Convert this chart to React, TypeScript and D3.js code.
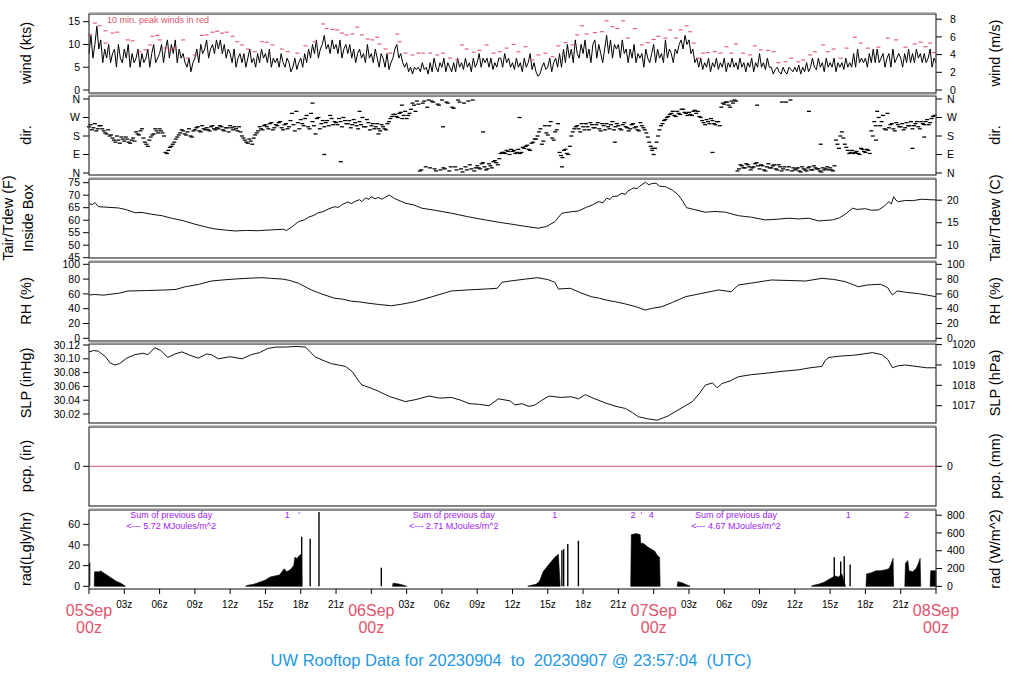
import React from 'react';
import * as d3 from 'd3';

// hours after 05Sep 00z, 72 h shown
const dayLabels = ['05Sep', '06Sep', '07Sep', '08Sep'];
const title = 'UW Rooftop Data for 20230904  to  20230907 @ 23:57:04  (UTC)';

// 1-min wind (kts), one kept sample every 10 min (one row = 2 h)
const windStep = 1 / 6;
const windKts = [
  8, 12, 7, 10, 14, 9, 11, 6, 9, 7, 10, 6,
  8, 9, 5, 10, 7, 6, 9, 7, 10, 5, 8, 6,
  7, 9, 5, 8, 6, 7, 9, 5, 8, 10, 6, 7,
  8, 10, 6, 9, 11, 7, 10, 8, 11, 6, 9, 7,
  8, 6, 5, 7, 4, 6, 7, 9, 6, 10, 8, 9,
  11, 7, 9, 10, 8, 11, 9, 11, 8, 10, 7, 9,
  8, 6, 9, 5, 7, 8, 6, 8, 5, 7, 9, 6,
  7, 5, 8, 6, 9, 7, 8, 6, 9, 5, 7, 6,
  7, 5, 8, 6, 5, 7, 6, 4, 5, 7, 4.5, 6,
  7, 5, 8, 6, 9, 7, 10, 8, 11, 7, 9, 10,
  12, 9, 10, 8, 11, 9, 10, 8, 11, 7, 9, 10,
  8, 10, 7, 9, 6, 8, 9, 7, 8, 6, 10, 7,
  8, 6, 9, 7, 5, 8, 7, 5, 8, 4.5, 6, 7,
  9, 10, 7, 8, 6, 5, 6, 4, 5, 3.5, 5, 4.5,
  5, 4, 6, 4.5, 5, 3.5, 6, 4, 7, 5, 4, 6,
  5, 7, 4, 6, 5, 4, 6, 4, 7, 5, 6, 4.5,
  7, 5, 6, 4, 7, 5, 6, 8, 5, 7, 6, 7,
  5, 7, 4.5, 6, 5, 7, 7, 5, 8, 6, 7, 5,
  6, 4.5, 7, 5, 6, 4, 7, 5, 6, 8, 4.5, 6,
  4, 3, 3.5, 5, 6, 4.5, 5, 7, 4, 6, 7, 5,
  8, 5, 9, 6, 10, 7, 9, 6, 11, 8, 7, 10,
  8, 11, 7, 9, 6, 10, 11, 7, 10, 8, 6, 9,
  12, 8, 11, 7, 10, 9, 10, 7, 11, 8, 9, 6,
  9, 7, 10, 6, 8, 7, 8, 5, 9, 7, 6, 8,
  10, 6, 9, 7, 8, 6, 11, 7, 9, 8, 6, 9,
  8, 10, 11, 9, 12, 10, 11, 8, 9, 6, 7, 5,
  7, 4.5, 6, 5, 7, 4, 6, 5, 7, 4.5, 6, 5,
  7, 4, 6, 5, 7, 5, 6, 4.5, 7, 5, 6, 4,
  6, 5, 7, 4, 6, 5, 8, 5, 6, 4.5, 7, 5,
  5, 3.5, 4.5, 5, 4, 3.5, 5, 4, 3.5, 5, 4.5, 4,
  5, 4, 5.5, 3.5, 5, 4, 6, 4, 5, 7, 5, 4.5,
  7, 5, 6, 4, 7, 5, 6, 5, 7, 4, 6, 5,
  6, 4.5, 7, 5, 6, 5, 8, 5, 9, 6, 7, 6,
  7, 5, 8, 6, 9, 6, 9, 6, 7, 8, 5, 7,
  8, 5, 9, 6, 7, 8, 7, 5, 8, 6, 9, 6,
  8, 6, 9, 7, 8, 6, 8, 6, 7, 9, 5, 7, 6,
];

// 10-min peak wind (kts): [hour, value]
const gustKts: [number, number][] = [
  [0.1, 12.1], [0.5, 14.7], [0.9, 14.1], [1.4, 13], [1.4, 10.3], [2.0, 12.5], [2.4, 12.7], [3.3, 11],
  [3.7, 10.8], [4.3, 8.4], [4.8, 8.8], [5.2, 9.9], [5.4, 11.8], [5.8, 12], [6.0, 11], [6.5, 9.2],
  [6.9, 8.8], [7.3, 9.2], [8.0, 11], [8.4, 7], [9.0, 7.7], [9.6, 12], [10.0, 12.1], [10.5, 12.7],
  [10.9, 12.9], [11.3, 12.5], [11.7, 12.7], [12.2, 11.8], [12.6, 10.6], [13.0, 9.9], [13.5, 9], [14.1, 8.4],
  [14.7, 10.6], [15.1, 10.5], [15.6, 9.9], [16.4, 9], [16.9, 8.4], [17.7, 8.1], [18.4, 9.7], [19.2, 10.6],
  [19.9, 14.5], [20.2, 13.5], [20.7, 13.3], [21.1, 13.2], [21.5, 12.5], [21.9, 12.1], [22.4, 12.3], [22.8, 13.8],
  [23.2, 12.1], [23.7, 11.2], [24.1, 11], [24.5, 11.6], [24.7, 10.1], [25.2, 9], [25.6, 8.1], [26.2, 12.3],
  [26.4, 10.6], [26.9, 8.1], [27.5, 7.7], [28.0, 8.1], [28.4, 8.1], [29.0, 8.1], [29.6, 7.7], [30.1, 8.1],
  [30.7, 7], [31.3, 6.6], [31.7, 9.9], [32.1, 9], [32.7, 8.3], [33.2, 8.7], [33.8, 9.9], [34.4, 8.1],
  [34.9, 8.4], [35.5, 9.2], [36.1, 10], [36.5, 8.4], [37.1, 9.5], [37.7, 6.6], [38.2, 7.7], [38.8, 8.1],
  [39.4, 7.3], [39.9, 9.7], [40.5, 10.4], [41.1, 9.9], [41.5, 12.1], [41.9, 14.1], [42.3, 12.3], [43.0, 12.6],
  [43.6, 12.8], [44.0, 15.2], [44.5, 13.9], [44.9, 13.5], [45.4, 15.2], [45.8, 11.4], [46.4, 13.5], [47.0, 9.9],
  [47.5, 10.4], [48.0, 11.1], [48.4, 11.8], [49.0, 11.4], [49.4, 13.2], [49.9, 11.4], [50.3, 13.2], [50.8, 14.1],
  [51.1, 12.8], [51.4, 10.3], [51.8, 7], [52.2, 8.1], [52.6, 8.2], [53.2, 8.4], [53.7, 8.1], [54.2, 9.5],
  [54.6, 8.1], [55.0, 10.1], [55.6, 8.1], [56.2, 7.7], [56.6, 9.7], [57.1, 8.8], [57.7, 8.7], [58.2, 8.4],
  [58.6, 6], [59.2, 6.2], [59.7, 7], [60.3, 6.2], [60.7, 6.6], [61.3, 7.7], [61.7, 8.4], [62.4, 9.9],
  [62.8, 8.4], [63.3, 9], [63.9, 7], [64.4, 9.2], [65.1, 11.6], [65.6, 10.3], [66.2, 9.2], [67.1, 9.4],
  [67.9, 11.4], [68.6, 11], [69.4, 9.4], [70.2, 10.1], [70.7, 10.5], [71.1, 9.5], [71.5, 10.3], [71.8, 8.2],
];

// wind direction (deg): two readings per 15 min, the second 7.5 min later
const dirStep = 0.25;
const dirDeg = [
  225, 210, 240, 215, 230, 205, 190, 180, 170, 150, 160, 175, 155, 165, 145, 170,
  200, 185, 215, 150, 130, 175, 190, 205, 215, 195, 100, 110, 130, 150, 175, 195,
  205, 185, 215, 175, 210, 225, 200, 215, 220, 205, 230, 210, 215, 225, 205, 220,
  230, 210, 215, 225, 180, 160, 145, 155, 170, 195, 225, 210, 235, 215, 245, 220,
  230, 250, 210, 240, 225, 290, 205, 245, 260, 230, 280, 215, 250, 190, 270, 240,
  225, 255, 280, 235, 245, 265, 225, 255, 240, 220, 260, 230, 250, 270, 225, 245,
  230, 215, 240, 205, 225, 210, 250, 275, 285, 270, 295, 280, 265, 290, 340, 300,
  335, 15, 350, 320, 25, 345, 10, 330, 355, 20, 340, 30, 315, 15, 345, 5,
  30, 350, 20, 10, 35, 20, 50, 15, 45, 25, 60, 40, 95, 100, 110, 90,
  105, 95, 115, 100, 120, 135, 110, 150, 165, 200, 140, 230, 185, 250, 160, 210,
  100, 75, 115, 90, 180, 215, 230, 200, 225, 240, 210, 235, 220, 245, 205, 230,
  240, 215, 250, 225, 230, 210, 245, 220, 215, 240, 225, 205, 230, 210, 175, 130,
  90, 150, 210, 240, 260, 275, 290, 280, 300, 285, 310, 290, 295, 280, 305, 300,
  270, 245, 260, 240, 255, 235, 250, 320, 335, 345, 320, 340, 350, 20, 35, 25,
  40, 15, 30, 50, 20, 35, 10, 45, 25, 40, 15, 30, 20, 345, 30, 10,
  15, 25, 5, 20, 10, 30, 15, 25, 20, 5, 15, 30, 25, 10, 160, 120,
  200, 140, 110, 100, 95, 105, 90, 115, 100, 110, 205, 250, 300, 230, 280, 210,
  220, 240, 205, 235, 225, 210, 245, 230, 215, 240, 225, 250, 235, 260, 245, 275,
];
const dirDeg2 = [
  235, 220, 205, 230, 215, 195, 210, 185, 160, 180, 145, 165, 175, 150, 160, 155,
  190, 205, 170, 140, 160, 185, 215, 195, 205, 180, 95, 125, 140, 165, 185, 210,
  190, 200, 180, 205, 220, 205, 230, 210, 210, 225, 215, 220, 230, 210, 220, 200,
  220, 225, 205, 200, 170, 150, 165, 140, 185, 205, 215, 230, 225, 240, 210, 235,
  245, 220, 235, 215, 255, 235, 300, 215, 240, 265, 225, 290, 230, 265, 215, 255,
  245, 230, 265, 250, 235, 250, 270, 240, 255, 235, 245, 215, 235, 225, 260, 210,
  240, 225, 215, 235, 215, 240, 265, 285, 275, 290, 265, 300, 280, 310, 330, 350,
  10, 340, 30, 355, 350, 20, 335, 15, 25, 345, 10, 320, 30, 355, 20, 340,
  15, 40, 355, 25, 25, 45, 30, 20, 35, 55, 50, 70, 100, 95, 105, 115,
  110, 100, 95, 125, 130, 115, 145, 165, 180, 215, 155, 195, 230, 170, 200, 240,
  85, 110, 95, 130, 200, 225, 215, 240, 210, 225, 245, 220, 235, 215, 240, 210,
  225, 235, 210, 240, 215, 235, 225, 205, 235, 220, 210, 245, 220, 195, 150, 110,
  120, 180, 230, 255, 270, 285, 300, 275, 290, 310, 295, 280, 285, 300, 290, 275,
  255, 235, 250, 265, 240, 250, 230, 340, 345, 330, 350, 355, 10, 40, 25, 45,
  30, 25, 45, 35, 40, 15, 30, 25, 35, 20, 40, 10, 30, 15, 355, 25,
  20, 10, 30, 15, 25, 15, 35, 20, 10, 25, 20, 15, 15, 35, 140, 180,
  170, 125, 95, 110, 100, 95, 120, 105, 115, 95, 180, 230, 270, 250, 215, 290,
  235, 215, 245, 225, 240, 220, 230, 250, 230, 250, 215, 240, 250, 235, 265, 280,
];
// scattered single readings off the main band: [hour, deg]
const dirExtra: [number, number][] = [
  [19.0, 340], [20.0, 90], [21.4, 55], [23.0, 300], [24.6, 190], [26.6, 330], [30.1, 225], [33.5, 200],
  [36.6, 270], [40.2, 30], [44.7, 150], [47.9, 120], [53.0, 100], [56.8, 330], [58.9, 345], [61.2, 300],
  [62.2, 140], [66.9, 160], [70.0, 120], [71.0, 175],
];

// inside-box air temperature (F): [hour, value]
const tempF: [number, number][] = [
  [0, 66.5], [0.3, 66.3], [0.5, 67.1], [0.8, 65.4], [1.5, 65.2], [2.5, 64.9], [3.2, 64.2], [3.9, 63],
  [4.5, 63.1], [5.3, 62.4], [6.2, 61.8], [7.0, 60.8], [8.0, 59.8], [9.0, 58.4], [10.0, 57.2], [10.7, 56.5],
  [11.5, 56.1], [12.4, 55.7], [13.4, 55.9], [14.4, 55.8], [15.0, 56.0], [15.5, 56.1], [16.5, 56.4], [16.8, 55.9],
  [17.3, 57.5], [17.8, 59.4], [18.3, 60.1], [18.7, 61.3], [19.1, 61.9], [19.5, 63], [19.9, 63.4], [20.4, 64.6],
  [20.9, 65.4], [21.2, 65.1], [21.5, 66.2], [22.0, 67.3], [22.3, 66.6], [22.6, 67.5], [23.0, 68.2], [23.2, 67.4],
  [23.5, 68.9], [23.8, 68.3], [24.0, 69.4], [24.3, 68.6], [24.6, 69.1], [24.9, 68.4], [25.2, 69.2], [25.5, 70.1],
  [26.0, 68.6], [26.9, 66.8], [27.6, 66.1], [28.3, 64.8], [29.5, 63.9], [30.8, 62.8], [32.2, 61.4], [33.7, 60.1],
  [34.8, 59.2], [35.8, 58.5], [37.0, 57.6], [38.2, 56.8], [38.9, 57.5], [39.6, 59.4], [40.2, 62.8], [40.9, 63.3],
  [41.6, 63.7], [42.3, 65.2], [42.8, 66.1], [43.3, 67.4], [43.7, 67.0], [44.0, 68.8], [44.3, 68.3], [44.5, 69.5],
  [44.9, 69.6], [45.3, 70.8], [45.6, 70.3], [45.8, 71.6], [46.1, 72.4], [46.3, 72.9], [46.6, 72.6], [46.8, 73.6],
  [47.0, 74.2], [47.3, 75.2], [47.6, 74.1], [47.8, 74.6], [48.2, 74.8], [48.5, 73.6], [49.0, 73.4], [49.6, 72.0],
  [50.1, 70.1], [50.5, 67.4], [50.8, 65], [51.5, 64.2], [52.4, 63.2], [53.2, 63.5], [54.1, 63.2], [55.2, 61.8],
  [56.3, 61.2], [57.5, 60.1], [58.5, 60.4], [59.5, 60.8], [60.3, 60.5], [61.2, 60.8], [62.0, 59.7], [63.2, 60.1],
  [63.8, 61.0], [64.3, 62.4], [64.9, 64.8], [65.3, 64.3], [66.0, 64.6], [66.5, 64.0], [67.1, 64.1], [67.6, 65.6],
  [68.0, 67.4], [68.2, 66.5], [68.4, 69.4], [68.6, 68.0], [68.8, 67.4], [69.4, 67.9], [70.0, 67.8], [70.8, 68.4],
  [71.4, 68.2], [72, 68.1],
];

// relative humidity (%): [hour, value]
const rhPct: [number, number][] = [
  [0, 58.5], [0.5, 59.2], [1.2, 58.3], [2.5, 60.8], [3.3, 63.9], [4.8, 64.5], [6.5, 65.3], [7.4, 66.1],
  [8.2, 69.7], [9.3, 72.8], [10.4, 77.4], [11.4, 78.9], [12.4, 80.1], [13.6, 81.2], [14.7, 81.9], [15.5, 81.0],
  [16.4, 80.1], [17.0, 78.4], [17.8, 74.5], [18.9, 65.3], [19.8, 59.8], [20.9, 54], [21.6, 52.8], [22.3, 50.1],
  [23.0, 49.2], [23.8, 47.3], [24.7, 45.6], [25.7, 44], [26.6, 46.1], [27.7, 49.5], [29.0, 55.4], [30.8, 63.9],
  [32.2, 65.4], [33.7, 66.6], [34.7, 67.6], [35.1, 75.7], [35.8, 77.4], [37.0, 79.8], [38.1, 81.9], [39.0, 79.4],
  [39.6, 75.7], [39.9, 66.6], [40.9, 67.6], [41.8, 61.5], [42.7, 56.2], [43.4, 54.1], [44.1, 51.2], [44.7, 49.5],
  [45.5, 46.8], [46.4, 43.1], [47.3, 38.2], [47.9, 40.6], [48.7, 42.7], [49.6, 48.5], [50.7, 56.2], [52.0, 60.4],
  [53.5, 65.3], [54.6, 63], [55.2, 72], [56.5, 75.1], [58.0, 78.8], [59.5, 78.1], [60.9, 77.4], [62.3, 81],
  [63.3, 79.6], [64.3, 76.5], [65.4, 69.7], [66.2, 72.1], [67.3, 73], [67.9, 68.4], [68.1, 63.0], [68.3, 58.5],
  [68.7, 63.9], [69.5, 62.1], [70.5, 60.4], [71.3, 58.2], [72, 56.2],
];

// sea level pressure (inHg): [hour, value]
const slpInHg: [number, number][] = [
  [0, 30.11], [0.4, 30.112], [0.8, 30.111], [1.4, 30.103], [1.8, 30.094], [2.2, 30.091], [2.6, 30.093], [3.2, 30.101],
  [3.9, 30.106], [4.6, 30.108], [5.0, 30.106], [5.6, 30.116], [6.1, 30.112], [6.7, 30.102], [7.3, 30.107], [7.9, 30.11],
  [8.6, 30.105], [9.3, 30.101], [10.0, 30.107], [10.4, 30.106], [11.0, 30.1], [12.0, 30.103], [13.0, 30.1], [13.8, 30.106],
  [14.5, 30.109], [15.2, 30.115], [15.9, 30.117], [16.7, 30.117], [17.6, 30.118], [18.4, 30.117], [18.8, 30.11], [19.2, 30.103],
  [20.0, 30.097], [20.6, 30.093], [21.2, 30.091], [21.8, 30.089], [22.4, 30.081], [23.0, 30.066], [23.2, 30.062], [23.9, 30.058],
  [24.6, 30.053], [25.6, 30.045], [26.9, 30.038], [27.8, 30.041], [28.9, 30.046], [29.8, 30.043], [30.8, 30.044], [31.6, 30.04],
  [32.3, 30.035], [33.2, 30.034], [34.0, 30.032], [34.8, 30.042], [35.8, 30.039], [36.2, 30.033], [36.8, 30.035], [37.4, 30.031],
  [37.9, 30.033], [38.5, 30.04], [39.1, 30.046], [40.1, 30.044], [41.0, 30.045], [41.6, 30.042], [42.2, 30.048], [43.0, 30.042],
  [43.9, 30.036], [44.8, 30.031], [45.6, 30.028], [46.2, 30.022], [46.7, 30.016], [47.5, 30.013], [48.3, 30.011], [49.2, 30.017],
  [50.1, 30.026], [50.7, 30.032], [51.3, 30.038], [51.9, 30.05], [52.4, 30.062], [53.0, 30.065], [53.4, 30.058], [53.8, 30.064],
  [54.5, 30.068], [55.2, 30.074], [56.3, 30.077], [57.5, 30.079], [59.0, 30.082], [60.3, 30.084], [61.3, 30.087], [62.3, 30.089],
  [62.6, 30.098], [62.9, 30.102], [63.9, 30.104], [64.9, 30.105], [65.8, 30.107], [66.6, 30.109], [67.4, 30.106], [67.9, 30.099],
  [68.3, 30.087], [68.8, 30.09], [69.4, 30.091], [70.3, 30.089], [71.2, 30.087], [72, 30.087],
];

// solar radiation (Ly/hr): continuous runs and single readings
const radSegments: [number, number][][] = [
  [[0.45, 0], [0.47, 14], [0.9, 14], [1.0, 15], [1.1, 14], [1.5, 11], [1.9, 8], [2.3, 5], [2.7, 3], [3.1, 0]],
  [[13.3, 0], [13.5, 1], [14.0, 2], [14.5, 4], [15.0, 6], [15.4, 9], [15.8, 10], [16.2, 11], [16.4, 14], [16.6, 17],
    [16.8, 14], [17.1, 16], [17.4, 20], [17.5, 28], [17.7, 27], [17.9, 30], [18.05, 31], [18.1, 0]],
  [[25.8, 0], [25.85, 3], [26.2, 2.5], [26.6, 1.5], [27.0, 0]],
  [[37.3, 0], [37.6, 1], [38.0, 2], [38.3, 5], [38.6, 14], [39.0, 20], [39.3, 24], [39.6, 28], [39.9, 31], [40.05, 0]],
  [[46.05, 0], [46.1, 50], [46.5, 51], [46.85, 50], [46.9, 42], [47.2, 41], [47.5, 38], [47.8, 36], [48.1, 34], [48.3, 30],
    [48.5, 28], [48.55, 0]],
  [[50.0, 0], [50.05, 4.5], [50.4, 3.5], [50.8, 1.5], [51.1, 0]],
  [[61.4, 0], [61.6, 1], [62.0, 2], [62.5, 4], [62.8, 6], [63.1, 8], [63.4, 10], [63.7, 9], [64.0, 12], [64.3, 0]],
  [[66.05, 0], [66.1, 12], [66.5, 13], [66.9, 15], [67.3, 15], [67.7, 16], [68.0, 17], [68.2, 22], [68.35, 27], [68.4, 0]],
  [[69.35, 0], [69.4, 22], [69.6, 25], [69.7, 15], [70.0, 14], [70.3, 17], [70.5, 22], [70.65, 27], [70.7, 0]],
  [[71.5, 0], [71.55, 15], [72, 15]],
];
const radSpikes: [number, number][] = [
  [0.05, 23], [18.08, 48], [18.8, 46], [19.55, 72], [24.85, 18], [40.2, 35], [40.35, 36], [40.7, 41],
  [41.6, 44], [63.35, 28], [63.9, 24], [64.2, 29], [64.7, 21],
];
// daily totals printed in the panel, and the hour marks along its top
const radNotes: [number, string][] = [[7, '5.72'], [31, '2.71'], [55, '4.67']];
const radMarks: [number, string][] = [
  [16.85, '1'], [17.85, "'"], [39.6, '1'], [46.25, '2'], [46.95, "'"], [47.8, '4'], [64.55, '1'], [69.5, '2'],
];

// axis ticks
const windTicksL = [0, 5, 10, 15];
const windTicksR = [0, 2, 4, 6, 8];
const dirTicks = [0, 90, 180, 270, 360];
const dirNames = ['N', 'E', 'S', 'W', 'N'];
const tempTicksL = [45, 50, 55, 60, 65, 70, 75];
const tempTicksR = [10, 15, 20];
const rhTicks = [0, 20, 40, 60, 80, 100];
const slpTicksL = [30.02, 30.04, 30.06, 30.08, 30.1, 30.12];
const slpTicksR = [1017, 1018, 1019, 1020];
const radTicksL = [0, 20, 40, 60];
const radTicksR = [0, 200, 400, 600, 800];

const RED = '#DF536B';
const FONT = '"Liberation Sans", Arial, Helvetica, sans-serif';
const X0 = 89;
const X1 = 936;
const panelTops = [14, 96, 179, 262, 344, 427, 510];
const PH = 79;

type Tick = { y: number; label: string };

const LeftAxis = ({ ticks, lx = 80 }: { ticks: Tick[]; lx?: number }) => (
  <g>
    {ticks.map((t, i) => (
      <g key={i}>
        <line x1={X0 - 6} x2={X0} y1={t.y} y2={t.y} stroke="#000" />
        <text x={lx} y={t.y} dy="0.35em" textAnchor="end" fontSize={10.5}>{t.label}</text>
      </g>
    ))}
  </g>
);

const RightAxis = ({ ticks, lx = 947 }: { ticks: Tick[]; lx?: number }) => (
  <g>
    {ticks.map((t, i) => (
      <g key={i}>
        <line x1={X1} x2={X1 + 6} y1={t.y} y2={t.y} stroke="#000" />
        <text x={lx} y={t.y} dy="0.35em" textAnchor="start" fontSize={10.5}>{t.label}</text>
      </g>
    ))}
  </g>
);

const VLabel = ({ x, y, text }: { x: number; y: number; text: string }) => (
  <text transform={`translate(${x},${y}) rotate(-90)`} textAnchor="middle" fontSize={14.5}>{text}</text>
);

const Dash = ({ cx, cy, color = '#000', w = 1.3 }: { cx: number; cy: number; color?: string; w?: number }) => (
  <line x1={cx - 2} x2={cx + 2} y1={cy} y2={cy} stroke={color} strokeWidth={w} />
);

export default function App() {
  const x = d3.scaleLinear().domain([0, 72]).range([X0, X1]);
  const yWind = d3.scaleLinear().domain([0, 15]).range([90, 21.7]);
  const yDir = d3.scaleLinear().domain([0, 360]).range([173, 99]);
  const yTemp = d3.scaleLinear().domain([45, 75]).range([257.7, 182.7]);
  const yRH = d3.scaleLinear().domain([0, 100]).range([338.3, 264.3]);
  const ySlp = d3.scaleLinear().domain([30.02, 30.12]).range([414, 345]);
  const yPcp = d3.scaleLinear().domain([-1, 1]).range([506, 426.6]);
  const yRad = d3.scaleLinear().domain([0, 60]).range([586.3, 524.3]);

  const windLine = d3.line<number>().x((_, i) => x(i * windStep)).y((d) => yWind(d));
  const pairLine = (ys: d3.ScaleLinear<number, number>) =>
    d3.line<[number, number]>().x((d) => x(d[0])).y((d) => ys(d[1]));
  const radArea = d3.area<[number, number]>().x((d) => x(d[0])).y0(yRad(0)).y1((d) => yRad(d[1]));

  const hourTicks = d3.range(0, 73, 3);
  const yBottom = panelTops[6] + PH;

  return (
    <svg width={1024} height={700} style={{ position: 'absolute', left: 0, top: 0, background: '#fff' }}
      fontFamily={FONT}>
      <rect width={1024} height={700} fill="#fff" />

      {/* wind */}
      <path d={windLine(windKts) ?? ''} fill="none" stroke="#000" strokeWidth={1} />
      {gustKts.map((d, i) => (
        <Dash key={i} cx={x(d[0])} cy={yWind(d[1])} color={RED} w={1.1} />
      ))}
      <text x={107} y={23} fontSize={9} fill={RED}>10 min. peak winds in red</text>
      <LeftAxis ticks={windTicksL.map((v) => ({ y: yWind(v), label: String(v) }))} />
      <RightAxis ticks={windTicksR.map((v) => ({ y: yWind(v * 1.943844), label: String(v) }))} lx={950} />

      {/* direction */}
      {dirDeg.map((d, i) => (
        <Dash key={'a' + i} cx={x(i * dirStep)} cy={yDir(d)} />
      ))}
      {dirDeg2.map((d, i) => (
        <Dash key={'b' + i} cx={x(i * dirStep + dirStep / 2)} cy={yDir(d)} />
      ))}
      {dirExtra.map((d, i) => (
        <Dash key={'e' + i} cx={x(d[0])} cy={yDir(d[1])} />
      ))}
      <LeftAxis ticks={dirTicks.map((v, i) => ({ y: yDir(v), label: dirNames[i] }))} />
      <RightAxis ticks={dirTicks.map((v, i) => ({ y: yDir(v), label: dirNames[i] }))} />

      {/* temperature */}
      <path d={pairLine(yTemp)(tempF) ?? ''} fill="none" stroke="#111" strokeWidth={1} />
      <LeftAxis ticks={tempTicksL.map((v) => ({ y: yTemp(v), label: String(v) }))} />
      <RightAxis ticks={tempTicksR.map((v) => ({ y: yTemp(v * 1.8 + 32), label: String(v) }))} />

      {/* humidity */}
      <path d={pairLine(yRH)(rhPct) ?? ''} fill="none" stroke="#111" strokeWidth={1} />
      <LeftAxis ticks={rhTicks.map((v) => ({ y: yRH(v), label: String(v) }))} />
      <RightAxis ticks={rhTicks.map((v) => ({ y: yRH(v), label: String(v) }))} />

      {/* pressure */}
      <path d={pairLine(ySlp)(slpInHg) ?? ''} fill="none" stroke="#111" strokeWidth={1} />
      <LeftAxis ticks={slpTicksL.map((v) => ({ y: ySlp(v), label: v.toFixed(2) }))} />
      <RightAxis ticks={slpTicksR.map((v) => ({ y: ySlp(v * 0.02953), label: String(v) }))} lx={952} />

      {/* precipitation */}
      <line x1={X0} x2={X1} y1={yPcp(0)} y2={yPcp(0)} stroke={RED} strokeWidth={1} />
      <LeftAxis ticks={[{ y: yPcp(0), label: '0' }]} />
      <RightAxis ticks={[{ y: yPcp(0), label: '0' }]} />

      {/* radiation */}
      {radSegments.map((s, i) => (
        <path key={i} d={radArea(s) ?? ''} fill="#000" stroke="#000" strokeWidth={0.6} />
      ))}
      {radSpikes.map((d, i) => (
        <line key={i} x1={x(d[0])} x2={x(d[0])} y1={yRad(0)} y2={yRad(d[1])} stroke="#000" strokeWidth={1.4} />
      ))}
      {radNotes.map(([h, v], i) => (
        <g key={i} fill="#A020F0" fontSize={9} textAnchor="middle">
          <text x={x(h)} y={518}>Sum of previous day</text>
          <text x={x(h)} y={529}>{`<--- ${v} MJoules/m^2`}</text>
        </g>
      ))}
      {radMarks.map(([h, s], i) => (
        <text key={i} x={x(h)} y={518} fill="#A020F0" fontSize={9} textAnchor="middle">{s}</text>
      ))}
      <LeftAxis ticks={radTicksL.map((v) => ({ y: yRad(v), label: String(v) }))} />
      <RightAxis ticks={radTicksR.map((v) => ({ y: yRad(v / 11.622), label: String(v) }))} />

      {/* panel frames */}
      {panelTops.map((t, i) => (
        <g key={i}>
          <rect x={X0} y={t} width={X1 - X0} height={PH} fill="none" stroke="#333" strokeWidth={1.2} />
          <line x1={X0} x2={X1} y1={t - 1.2} y2={t - 1.2} stroke="#aaa" strokeWidth={1.2} />
        </g>
      ))}

      {/* time axis */}
      {hourTicks.map((h) => (
        <g key={h}>
          <line x1={x(h)} x2={x(h)} y1={yBottom} y2={yBottom + 5} stroke="#000" />
          {h % 24 === 0 ? (
            <g fill={RED} fontSize={16} textAnchor="middle">
              <text x={x(h)} y={616}>{dayLabels[h / 24]}</text>
              <text x={x(h)} y={633}>00z</text>
            </g>
          ) : (
            <text x={x(h)} y={608} fontSize={10} textAnchor="middle">{`${String(h % 24).padStart(2, '0')}z`}</text>
          )}
        </g>
      ))}

      {/* axis titles */}
      <VLabel x={31} y={53} text="wind (kts)" />
      <VLabel x={31} y={135} text="dir." />
      <VLabel x={13} y={218} text="Tair/Tdew (F)" />
      <VLabel x={33} y={218} text="Inside Box" />
      <VLabel x={31} y={301} text="RH (%)" />
      <VLabel x={31} y={383} text="SLP (inHg)" />
      <VLabel x={31} y={466} text="pcp. (in)" />
      <VLabel x={31} y={549} text="rad(Lgly/hr)" />

      <VLabel x={1000} y={53} text="wind (m/s)" />
      <VLabel x={1000} y={135} text="dir." />
      <VLabel x={1000} y={218} text="Tair/Tdew (C)" />
      <VLabel x={1000} y={301} text="RH (%)" />
      <VLabel x={1000} y={383} text="SLP (hPa)" />
      <VLabel x={1000} y={466} text="pcp. (mm)" />
      <VLabel x={1000} y={549} text="rad (W/m^2)" />

      <text x={511} y={666} textAnchor="middle" fontSize={16.5} fill="#2297E6" style={{ whiteSpace: 'pre' }}>{title}</text>
    </svg>
  );
}
